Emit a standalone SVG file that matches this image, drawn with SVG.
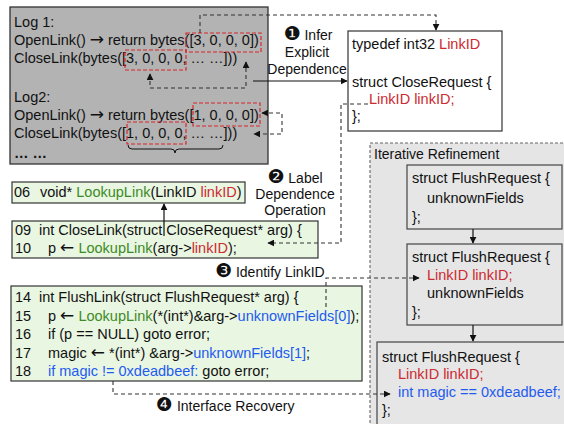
<svg xmlns="http://www.w3.org/2000/svg" width="564" height="424" viewBox="0 0 564 424">
  <defs>
    <style>
      text { font-family: "Liberation Sans", Arial, "DejaVu Sans", sans-serif; font-size: 14.5px; fill: #111; }
      .lbl { font-size: 14px; }
      .num { font-family: "DejaVu Sans", sans-serif; font-size: 19px; }
      .arr { font-family: "DejaVu Sans", sans-serif; font-size: 17px; }
      .mid { text-anchor: middle; }
      .red { fill: #cc2b30; }
      .grn { fill: #3d8b26; }
      .blu { fill: #1f5bef; }
      .log { fill: #b3b3b3; stroke: #333; stroke-width: 1.3; }
      .code { fill: #e9f6e2; stroke: #333; stroke-width: 1.2; }
      .plain { fill: #fff; stroke: #333; stroke-width: 1.2; }
      .gbox { fill: #e6e6e6; stroke: #444; stroke-width: 1.2; }
      .hl { fill: none; stroke: #d9262d; stroke-width: 1.2; stroke-dasharray: 4 2; }
      .dash { fill: none; stroke: #333; stroke-width: 1.1; stroke-dasharray: 4 3; }
      .solid { fill: none; stroke: #111; stroke-width: 1.2; }
    </style>
    <marker id="arrow" viewBox="0 0 10 10" refX="9" refY="5" markerWidth="7" markerHeight="7" markerUnits="userSpaceOnUse" orient="auto-start-reverse">
      <path d="M0,0 L10,5 L0,10 z" fill="#111"/>
    </marker>
  </defs>

  <!-- Iterative refinement container -->
  <g id="iterative-refinement">
    <rect x="370" y="143" width="200" height="290" fill="#e5e5e5" stroke="#666" stroke-width="1.1" stroke-dasharray="3 2"/>
    <text class="lbl" x="374" y="159">Iterative Refinement</text>
  </g>

  <!-- Execution logs -->
  <g id="logs">
    <rect class="log" x="10" y="7" width="258" height="157"/>
    <text x="14" y="27">Log 1:</text>
    <text x="14" y="45">OpenLink() <tspan class="arr">→</tspan> return bytes([3, 0, 0, 0])</text>
    <text x="14" y="63">CloseLink(bytes([3, 0, 0, 0, … …]))</text>
    <text x="14" y="102">Log2:</text>
    <text x="14" y="120">OpenLink() <tspan class="arr">→</tspan> return bytes([1, 0, 0, 0])</text>
    <text x="14" y="138">CloseLink(bytes([1, 0, 0, 0, … …]))</text>
    <text x="14" y="158" font-weight="bold">… …</text>
    <rect class="hl" x="186" y="33" width="75" height="19"/>
    <rect class="hl" x="125" y="50" width="61" height="20"/>
    <rect class="hl" x="193" y="103" width="67" height="23"/>
    <rect class="hl" x="127" y="122" width="59" height="22"/>
    <path d="M128,145 q0,4 4,4 H171 q4,0 4,4 q0,-4 4,-4 H219 q4,0 4,-4" fill="none" stroke="#111" stroke-width="1"/>
  </g>

  <!-- Recovered type definitions -->
  <g id="typedef-box">
    <rect class="plain" x="348" y="31" width="154" height="100"/>
    <text x="352" y="49">typedef int32 <tspan class="red">LinkID</tspan></text>
    <text x="352" y="87">struct CloseRequest {</text>
    <text x="369" y="104" class="red">LinkID linkID;</text>
    <text x="352" y="121">};</text>
  </g>

  <!-- Source snippets -->
  <g id="lookuplink">
    <rect class="code" x="12" y="182" width="233" height="21"/>
    <text x="14" y="197">06</text>
    <text x="40" y="197">void* <tspan class="grn">LookupLink</tspan>(LinkID <tspan class="red">linkID</tspan>)</text>
  </g>

  <g id="closelink">
    <rect class="code" x="12" y="221" width="306" height="37"/>
    <text x="15" y="235">09</text>
    <text x="39" y="235">int CloseLink(struct CloseRequest* arg) {</text>
    <text x="15" y="253">10</text>
    <text x="48" y="253">p <tspan class="arr">←</tspan> <tspan class="grn">LookupLink</tspan>(arg-&gt;<tspan class="red">linkID</tspan>);</text>
  </g>

  <g id="flushlink">
    <rect class="code" x="11" y="286" width="351" height="95"/>
    <text x="15" y="302">14</text>
    <text x="39" y="302">int FlushLink(struct FlushRequest* arg) {</text>
    <text x="15" y="320.5">15</text>
    <text x="48" y="320.5">p <tspan class="arr">←</tspan> <tspan class="grn">LookupLink</tspan>(*(int*)&amp;arg-&gt;<tspan class="blu">unknownFields[0]</tspan>);</text>
    <text x="15" y="339">16</text>
    <text x="48" y="339">if (p == NULL) goto error;</text>
    <text x="15" y="357.5">17</text>
    <text x="48" y="357.5">magic <tspan class="arr">←</tspan> *(int*) &amp;arg-&gt;<tspan class="blu">unknownFields[1]</tspan>;</text>
    <text x="15" y="376">18</text>
    <text x="48" y="376"><tspan class="blu">if magic != 0xdeadbeef:</tspan> goto error;</text>
  </g>

  <!-- Refinement steps -->
  <g id="flushrequest-1">
    <rect class="gbox" x="407" y="165" width="155" height="64"/>
    <text x="412" y="183">struct FlushRequest {</text>
    <text x="427" y="203">unknownFields</text>
    <text x="412" y="222">};</text>
  </g>

  <g id="flushrequest-2">
    <rect class="gbox" x="407" y="244" width="155" height="81"/>
    <text x="412" y="262">struct FlushRequest {</text>
    <text x="427" y="280" class="red">LinkID linkID;</text>
    <text x="427" y="298">unknownFields</text>
    <text x="412" y="317">};</text>
  </g>

  <g id="flushrequest-3">
    <rect class="gbox" x="377" y="342" width="192" height="92"/>
    <text x="382" y="362">struct FlushRequest {</text>
    <text x="398" y="379" class="red">LinkID linkID;</text>
    <text x="398" y="397" class="blu">int magic == 0xdeadbeef;</text>
    <text x="382" y="415">};</text>
  </g>

  <!-- Step labels -->
  <g id="step-labels">
    <text class="lbl mid" x="308" y="40"><tspan class="num">❶</tspan> Infer</text>
    <text class="lbl mid" x="307" y="57">Explicit</text>
    <text class="lbl mid" x="307" y="74">Dependence</text>
    <text class="lbl mid" x="295" y="183"><tspan class="num">❷</tspan> Label</text>
    <text class="lbl mid" x="295" y="199">Dependence</text>
    <text class="lbl mid" x="295" y="215">Operation</text>
    <text class="lbl" x="215" y="277"><tspan class="num">❸</tspan> Identify LinkID</text>
    <text class="lbl" x="156" y="411"><tspan class="num">❹</tspan> Interface Recovery</text>
  </g>

  <!-- Connectors -->
  <g id="connectors">
    <path class="dash" d="M200,33 V15 H436 V30" marker-end="url(#arrow)"/>
    <path class="dash" d="M150,74 V88 H246 V62" marker-start="url(#arrow)" marker-end="url(#arrow)"/>
    <path class="dash" d="M262,113 H282 V134 H254" marker-start="url(#arrow)" marker-end="url(#arrow)"/>
    <path class="solid" d="M253,81 H347" marker-end="url(#arrow)"/>
    <path class="dash" d="M368,104 H341 V243 H268" marker-end="url(#arrow)"/>
    <path class="solid" d="M164,236 V204" marker-end="url(#arrow)"/>
    <path class="dash" d="M326,307 V278 H419" marker-end="url(#arrow)"/>
    <path class="dash" d="M113,381 V394 H390" marker-end="url(#arrow)"/>
    <path class="solid" d="M473,229 V243" marker-end="url(#arrow)"/>
    <path class="solid" d="M473,325 V341" marker-end="url(#arrow)"/>
  </g>
</svg>
